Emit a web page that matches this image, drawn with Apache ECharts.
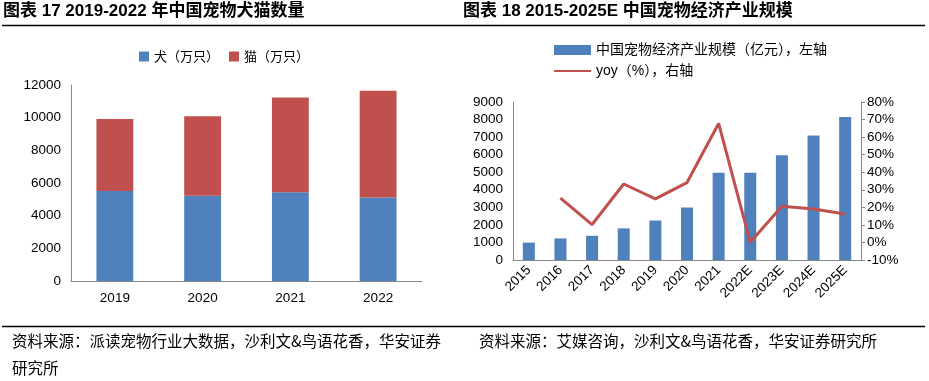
<!DOCTYPE html>
<html><head><meta charset="utf-8">
<script src="https://cdn.jsdelivr.net/npm/echarts@6/dist/echarts.min.js"></script>
<style>html,body{margin:0;padding:0;background:#fff}#c{width:929px;height:381px}</style>
</head><body><div id="c"></div>
<script>
// Left chart data
const years1 = ['2019', '2020', '2021', '2022'];
const dogs = [5503, 5222, 5429, 5119];
const cats = [4412, 4862, 5806, 6536];
const leftTicksMax = 12000;

// Right chart data
const years2 = ['2015', '2016', '2017', '2018', '2019', '2020', '2021', '2022E', '2023E', '2024E', '2025E'];
const scale = [990, 1230, 1380, 1800, 2250, 2990, 4970, 4970, 5970, 7090, 8150];
const yoy = [null, 25.3, 10.2, 33.3, 24.8, 34.1, 67.8, 0.1, 20.6, 19.0, 16.2];

const BLUE = '#4F81BD', RED = '#C0504D';
const FONT = '"Liberation Sans", Arial, "Noto Sans CJK SC", sans-serif';
const CJK = '"Noto Sans CJK SC", sans-serif';
const axisLbl = {color: '#000', fontSize: 13.5, fontFamily: FONT};
const axisLine = {show: true, lineStyle: {color: '#888', width: 1}};
const plain = v => String(v);

const chart = echarts.init(document.getElementById('c'), null, {renderer: 'canvas'});
chart.setOption({
  animation: false,
  textStyle: {fontFamily: FONT},
  graphic: [
    {type: 'text', left: 3, top: 3, style: {text: '图表 17 2019-2022 年中国宠物犬猫数量', font: 'bold 17px ' + FONT, fill: '#000'}},
    {type: 'text', left: 463, top: 3, style: {text: '图表 18 2015-2025E 中国宠物经济产业规模', font: 'bold 17px ' + FONT, fill: '#000'}},
    {type: 'line', shape: {x1: 2, y1: 25.5, x2: 925, y2: 25.5}, style: {stroke: '#000', lineWidth: 1.5}},
    {type: 'line', shape: {x1: 2, y1: 326.5, x2: 925, y2: 326.5}, style: {stroke: '#000', lineWidth: 1.5}},
    {type: 'text', left: 12, top: 333, style: {text: '资料来源：派读宠物行业大数据，沙利文&鸟语花香，华安证券', font: '15.5px ' + CJK, fill: '#000'}},
    {type: 'text', left: 12, top: 360, style: {text: '研究所', font: '15.5px ' + CJK, fill: '#000'}},
    {type: 'text', left: 479, top: 333, style: {text: '资料来源：艾媒咨询，沙利文&鸟语花香，华安证券研究所', font: '15.5px ' + CJK, fill: '#000'}}
  ],
  legend: [
    {
      left: 139, top: 50, padding: 0, itemWidth: 10, itemHeight: 10, itemGap: 10,
      data: [{name: '犬（万只）', icon: 'rect'}, {name: '猫（万只）', icon: 'rect'}],
      textStyle: {fontFamily: CJK, fontSize: 13, color: '#000'}
    },
    {
      left: 553, top: 43, padding: 0, orient: 'vertical', itemWidth: 37, itemHeight: 10, itemGap: 7,
      data: [{name: '中国宠物经济产业规模（亿元），左轴', icon: 'rect'},
             {name: 'yoy（%），右轴', itemStyle: {opacity: 0, borderWidth: 0}}],
      textStyle: {fontFamily: FONT, fontSize: 14, color: '#000'}
    }
  ],
  grid: [
    {left: 71, top: 85, width: 351, height: 196},
    {left: 513, top: 102, width: 348, height: 158}
  ],
  xAxis: [
    {type: 'category', gridIndex: 0, data: years1, axisLine: axisLine, axisTick: {show: false}, axisLabel: Object.assign({margin: 11}, axisLbl)},
    {type: 'category', gridIndex: 1, data: years2, axisLine: axisLine, axisTick: {show: false}, axisLabel: Object.assign({rotate: 45, margin: 8, interval: 0}, axisLbl)}
  ],
  yAxis: [
    {type: 'value', gridIndex: 0, min: 0, max: leftTicksMax, interval: 2000, axisLine: axisLine, axisTick: {show: false}, splitLine: {show: false}, axisLabel: Object.assign({margin: 10, formatter: plain}, axisLbl)},
    {type: 'value', gridIndex: 1, min: 0, max: 9000, interval: 1000, axisLine: axisLine, axisTick: {show: false}, splitLine: {show: false}, axisLabel: Object.assign({margin: 10, formatter: plain}, axisLbl)},
    {type: 'value', gridIndex: 1, position: 'right', min: -10, max: 80, interval: 10, axisLine: axisLine, axisTick: {show: true, length: 4, lineStyle: {color: '#888'}}, splitLine: {show: false}, axisLabel: Object.assign({margin: 6, formatter: '{value}%'}, axisLbl)}
  ],
  series: [
    {name: '犬（万只）', type: 'bar', stack: 'a', xAxisIndex: 0, yAxisIndex: 0, data: dogs, barWidth: '42%', itemStyle: {color: BLUE}},
    {name: '猫（万只）', type: 'bar', stack: 'a', xAxisIndex: 0, yAxisIndex: 0, data: cats, barWidth: '42%', itemStyle: {color: RED}},
    {name: '中国宠物经济产业规模（亿元），左轴', type: 'bar', xAxisIndex: 1, yAxisIndex: 1, data: scale, barWidth: '38%', itemStyle: {color: BLUE}},
    {name: 'yoy（%），右轴', type: 'line', xAxisIndex: 1, yAxisIndex: 2, data: yoy, symbol: 'none', lineStyle: {color: RED, width: 3}, itemStyle: {color: RED}}
  ]
});
</script>
</body></html>
